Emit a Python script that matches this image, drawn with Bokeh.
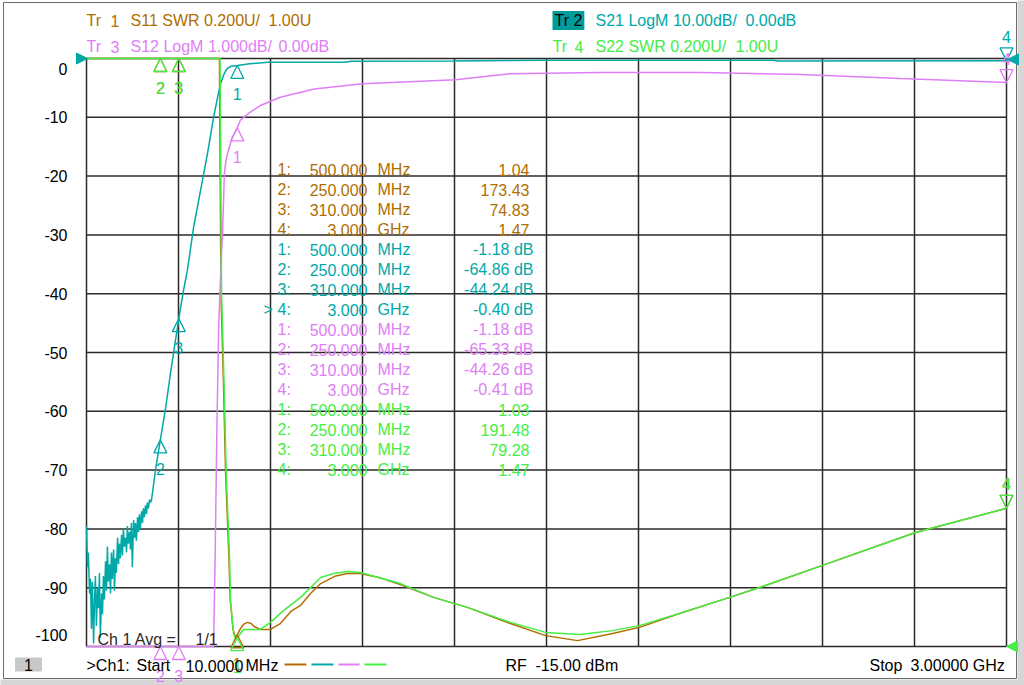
import numpy as np
from bokeh.plotting import figure
from bokeh.models import Range1d, Label, Arrow, NormalHead
from bokeh.embed import file_html
from bokeh.resources import INLINE

# ---------------- data ----------------
F_START, F_STOP = 10.0, 3000.0          # MHz
x_ticks = [10, 309, 608, 907, 1206, 1505, 1804, 2103, 2402, 2701, 3000]
y_ticks = [-100, -90, -80, -70, -60, -50, -40, -30, -20, -10, 0]
y_tick_labels = ["-100", "-90", "-80", "-70", "-60", "-50", "-40", "-30", "-20", "-10", "0"]

# Tr 2  S21 LogM (dB)
s21_f = [10, 13, 16, 20, 23, 26, 29, 33, 36, 39, 42, 46, 49, 52, 55, 59, 62, 65, 68, 72,
         75, 78, 81, 85, 88, 91, 94, 98, 101, 104, 107, 111, 114, 117, 120, 124, 127, 130, 133, 137,
         140, 143, 146, 150, 153, 156, 159, 163, 166, 169, 172, 176, 179, 182, 185, 189, 192, 195, 198, 202,
         205, 208, 211, 215, 218, 221, 234, 250, 267, 283, 296, 310, 325, 338, 358, 387,
         403, 423, 436, 446, 458, 468, 480, 500, 540, 600, 850, 870, 1200, 1500, 2240, 2260, 3000]
s21_db = [-79.5, -86.5, -84.0, -91.0, -88.5, -97.0, -89.0, -99.5, -92.0, -88.0,
          -96.5, -90.0, -93.5, -87.5, -98.5, -91.0, -94.5, -88.0, -92.0, -85.5,
          -90.5, -83.0, -89.0, -86.0, -91.0, -84.0, -88.5, -83.5, -90.5, -85.0,
          -87.5, -81.5, -86.0, -82.5, -85.0, -81.0, -84.5, -80.0, -83.0, -81.5,
          -84.0, -79.5, -82.5, -80.5, -83.5, -79.0, -86.5, -78.5, -81.5, -79.0,
          -82.0, -78.0, -80.5, -77.5, -80.0, -77.0, -79.0, -76.5, -78.0, -76.0,
          -77.5, -75.5, -76.5, -75.0, -75.5, -75.2, -70.1, -64.86, -59.5, -53.5, -49.0, -44.24, -39.5, -36.0, -28.7, -20.7,
          -16.2, -10.0, -6.6, -4.25, -2.5, -1.7, -1.3, -1.18, -0.9, -0.65, -0.62, -0.45, -0.42, -0.30, -0.30, -0.42, -0.40]

# Tr 3  S12 LogM (dB)
s12_f = [10, 250, 310, 423, 428, 434, 440, 448, 452, 455, 458, 463, 468, 484, 500, 510, 540, 575,
         640, 750, 907, 1209, 1388, 1680, 2006, 2331, 2656, 3000]
s12_db = [-79.5, -65.33, -44.26, -10.0, -8.5, -6.2, -4.5, -3.4, -3.0, -2.5, -1.96, -1.75, -1.62, -1.34,
          -1.18, -1.05, -0.92, -0.80, -0.66, -0.52, -0.43, -0.36, -0.26, -0.24, -0.24, -0.27, -0.34, -0.41]

# Tr 1  S11 SWR (U)   (values above 3.00 are off scale)
s11_f = [10, 250, 310, 442, 447, 456, 462, 473, 477, 486, 494, 500, 510, 520, 533, 545, 555, 575,
         608, 640, 675, 706, 738, 771, 820, 858, 900, 960, 1030, 1138, 1248, 1388, 1502, 1606,
         1720, 1807, 1937, 2100, 2207, 2402, 2704, 3000]
s11_swr = [3.0, 173.43, 74.83, 3.0, 2.2, 1.86, 1.59, 1.30, 1.16, 1.06, 1.03, 1.04, 1.06, 1.075, 1.082,
           1.078, 1.068, 1.058, 1.058, 1.078, 1.12, 1.14, 1.18, 1.214, 1.24, 1.248, 1.248, 1.235, 1.211,
           1.167, 1.133, 1.078, 1.037, 1.02, 1.044, 1.065, 1.112, 1.167, 1.204, 1.276, 1.388, 1.47]

# Tr 4  S22 SWR (U)
s22_f = [10, 250, 310, 444, 449, 458, 464, 475, 478, 488, 494, 500, 520, 543, 575, 608, 650, 706,
         771, 813, 858, 900, 1030, 1138, 1248, 1388, 1502, 1612, 1720, 1807, 1937, 2100, 2207, 2402, 2704, 3000]
s22_swr = [3.0, 191.48, 79.28, 3.0, 2.2, 1.86, 1.59, 1.30, 1.156, 1.044, 1.025, 1.03, 1.058, 1.058,
           1.058, 1.082, 1.122, 1.167, 1.235, 1.248, 1.255, 1.252, 1.214, 1.167, 1.133, 1.082, 1.048,
           1.041, 1.054, 1.071, 1.112, 1.167, 1.204, 1.276, 1.388, 1.47]

# markers
marker_f = [500, 250, 310, 3000]
marker_names = ["1", "2", "3", "4"]
s11_mk = [1.04, 173.43, 74.83, 1.47]
s21_mk = [-1.18, -64.86, -44.24, -0.40]
s12_mk = [-1.18, -65.33, -44.26, -0.41]
s22_mk = [1.03, 191.48, 79.28, 1.47]

# ---------------- style / layout ----------------
BROWN = "#B06E00"
TEAL = "#00A8A8"
TEAL_BOX = "#009C9C"
MAGENTA = "#E07EF5"
GREEN = "#44EE44"
GRID = "#2A2A2A"
FONT = "Liberation Sans"
FS = "16px"

W, H = 1024, 685
GL, GR, GT, GB = 86, 1006, 58, 646      # graticule edges on the canvas (px)

kx = (F_STOP - F_START) / (GR - GL)


def yrange(lo, hi):
    k = (hi - lo) / (GB - GT)
    return Range1d(lo - (H - GB) * k, hi + GT * k)


p = figure(width=W, height=H, output_backend="svg", toolbar_location=None, title=None,
           x_range=Range1d(F_START - GL * kx, F_START + (W - GL) * kx), y_range=yrange(-100.0, 0.0),
           min_border=0, min_border_left=0, min_border_right=0, min_border_top=0, min_border_bottom=0)
p.extra_y_ranges = {"swr": yrange(1.0, 3.0), "s12": yrange(-10.0, 0.0)}
p.axis.visible = False
p.grid.visible = False
p.outline_line_color = None
p.background_fill_color = "white"
p.border_fill_color = "white"


def px2x(px):
    return F_START + (px - GL) * kx


def py2y(py):
    return 0.0 - (py - GT) * 100.0 / (GB - GT)


def txt(x, y, s, color, dx=0, dy=0, align="left", rng="default", **kw):
    lab = Label(x=x, y=y, x_offset=dx, y_offset=dy, text=s, text_color=color,
                text_font=FONT, text_font_size=FS, text_align=align,
                text_baseline="middle", y_range_name=rng, **kw)
    p.add_layout(lab)
    return lab


def set_pad(lab, pad):
    try:
        lab.padding = pad
    except Exception:
        try:
            lab.padding = max(pad)
        except Exception:
            pass


# window frame decoration
p.quad(left=[px2x(1017)], right=[px2x(1025)], top=[py2y(-1)], bottom=[py2y(686)],
       fill_color="#D6D6D6", line_color=None)
p.quad(left=[px2x(-1)], right=[px2x(1025)], top=[py2y(679)], bottom=[py2y(686)],
       fill_color="#D6D6D6", line_color=None)
p.quad(left=[px2x(3)], right=[px2x(1016)], top=[py2y(2)], bottom=[py2y(678)],
       fill_color=None, line_color="#6A6A6A", line_width=1)

# graticule
n = len(x_ticks)
p.segment(x0=x_ticks, y0=[-100.0] * n, x1=x_ticks, y1=[0.0] * n, line_color=GRID, line_width=1.5)
m = len(y_ticks)
p.segment(x0=[F_START] * m, y0=y_ticks, x1=[F_STOP] * m, y1=y_ticks, line_color=GRID, line_width=1.5)

# y scale labels (end labels are pulled inside like the analyser does)
for t, s in zip(y_ticks, y_tick_labels):
    dy = -10 if t == 0 else (12 if t == -100 else 0)
    txt(F_START, t, s, "black", dx=-19, dy=dy, align="right")

# ---------------- traces ----------------
p.line(s11_f, np.clip(s11_swr, 1.0, 3.0), y_range_name="swr", line_color=BROWN, line_width=1.5)
p.line(s21_f, np.clip(s21_db, -100, 0), line_color=TEAL, line_width=1.5)
p.line(s12_f, np.clip(s12_db, -10, 0), y_range_name="s12", line_color=MAGENTA, line_width=1.5)
p.line(s22_f, np.clip(s22_swr, 1.0, 3.0), y_range_name="swr", line_color=GREEN, line_width=1.5)

# ---------------- markers ----------------
mk_specs = [(s11_mk, 1.0, 3.0, "swr", BROWN), (s21_mk, -100.0, 0.0, "default", TEAL),
            (s12_mk, -10.0, 0.0, "s12", MAGENTA), (s22_mk, 1.0, 3.0, "swr", GREEN)]
for vals, lo, hi, rng, col in mk_specs:
    eps = (hi - lo) * 0.01
    for k, (fm, v) in enumerate(zip(marker_f, vals)):
        yv = float(np.clip(v, lo, hi))
        up = k < 3
        head = NormalHead(size=13, line_color=col, line_width=1.3, fill_color=None)
        p.add_layout(Arrow(end=head, x_start=fm, x_end=fm,
                           y_start=(yv - eps) if up else (yv + eps), y_end=yv,
                           line_alpha=0, y_range_name=rng))
        txt(fm, yv, marker_names[k], col, dy=-29 if up else 24, align="center", rng=rng)

# reference position indicators
p.add_layout(Arrow(end=NormalHead(size=11, fill_color=TEAL, line_color=TEAL),
                   x_start=F_START - 50, x_end=px2x(87), y_start=0, y_end=0, line_alpha=0))
p.add_layout(Arrow(end=NormalHead(size=11, fill_color=TEAL, line_color=TEAL),
                   x_start=F_STOP + 50, x_end=px2x(1007), y_start=-0.15, y_end=-0.15, line_alpha=0))
p.add_layout(Arrow(end=NormalHead(size=11, fill_color=GREEN, line_color=GREEN),
                   x_start=F_STOP + 50, x_end=F_STOP, y_start=1.0, y_end=1.0, line_alpha=0,
                   y_range_name="swr"))

# ---------------- header ----------------
header = [
    (BROWN, 38, [("Tr", 86), ("1", 110), ("S11 SWR 0.200U/", 130), ("1.00U", 268)]),
    (MAGENTA, 12, [("Tr", 86), ("3", 110), ("S12 LogM 1.000dB/", 130), ("0.00dB", 278)]),
    (TEAL, 38, [("S21 LogM 10.00dB/", 595), ("0.00dB", 745)]),
    (GREEN, 12, [("Tr", 552), ("4", 574), ("S22 SWR 0.200U/", 595), ("1.00U", 735)]),
]
for col, dy, parts in header:
    for s, px in parts:
        txt(F_START, 0, s, col, dx=px - GL, dy=dy)
box = txt(F_START, 0, "Tr 2", "black", dx=552 - GL, dy=38, background_fill_color=TEAL_BOX)
set_pad(box, (2, 1))


# ---------------- marker table ----------------
def fmt_f(f):
    return (f"{f / 1000:.3f}", "GHz") if f >= 1000 else (f"{f:.3f}", "MHz")


table = [(s11_mk, BROWN, False), (s21_mk, TEAL, True), (s12_mk, MAGENTA, True), (s22_mk, GREEN, False)]
row = 0
for vals, col, is_db in table:
    for k, (fm, v) in enumerate(zip(marker_f, vals)):
        dy = -111 - 20 * row
        num, unit = fmt_f(fm)
        if col == TEAL and k == 3:
            txt(F_START, 0, ">", col, dx=263 - GL, dy=dy)
        txt(F_START, 0, f"{marker_names[k]}:", col, dx=277 - GL, dy=dy)
        txt(F_START, 0, num, col, dx=367 - GL, dy=dy, align="right")
        txt(F_START, 0, unit, col, dx=377 - GL, dy=dy)
        if is_db:
            txt(F_START, 0, f"{v:.2f} dB", col, dx=533 - GL, dy=dy, align="right")
        else:
            txt(F_START, 0, f"{v:.2f}", col, dx=529 - GL, dy=dy, align="right")
        row += 1

# ---------------- bottom status ----------------
txt(F_START, -100, "Ch 1 Avg =", "#2A2A2A", dx=97 - GL, dy=7)
txt(F_START, -100, "1/1", "#2A2A2A", dx=195 - GL, dy=7)
for s, px in [(">Ch1:", 86), ("Start", 136), ("10.0000", 185), ("MHz", 245),
              ("RF", 505), ("-15.00 dBm", 535), ("Stop", 869), ("3.00000 GHz", 910)]:
    txt(F_START, -100, s, "black", dx=px - GL, dy=-19)
one = txt(F_START, -100, "1", "black", dx=28 - GL, dy=-18, align="center", background_fill_color="#C8C8C8")
set_pad(one, (9, 1))

y_leg = py2y(664)
for col, a, b in [(BROWN, 284, 306), (TEAL, 311, 333), (MAGENTA, 338, 359), (GREEN, 364, 386)]:
    p.add_layout(Arrow(start=None, end=None, x_start=px2x(a), x_end=px2x(b), y_start=y_leg, y_end=y_leg,
                       line_color=col, line_width=2))

open("out.html", "w").write(file_html(p, INLINE))
